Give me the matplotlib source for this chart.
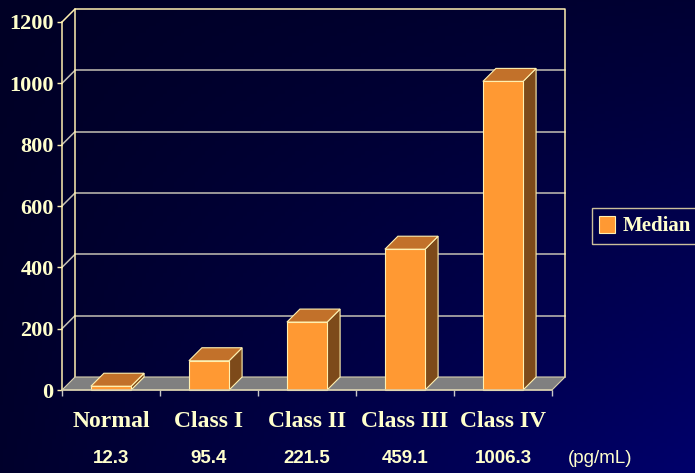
import numpy as np
import matplotlib
matplotlib.use("Agg")
import matplotlib.pyplot as plt
from matplotlib.patches import Polygon, Rectangle
from matplotlib.lines import Line2D
import matplotlib.transforms as mtransforms

# ---- data ----
categories = ["Normal", "Class I", "Class II", "Class III", "Class IV"]
medians = [12.3, 95.4, 221.5, 459.1, 1006.3]
value_labels = ["12.3", "95.4", "221.5", "459.1", "1006.3"]
unit_label = "(pg/mL)"
y_ticks = [0, 200, 400, 600, 800, 1000, 1200]
series_name = "Median"

# ---- style ----
W, H, DPI = 695, 473, 100
TXT = "#FFFFCC"
EDGE = "#FFF0B0"
GRID = "#C4C0B4"
FRONT = "#FF9933"
TOP = "#C2712A"
SIDE = "#7D4A1A"
FLOOR = "#808080"

fig = plt.figure(figsize=(W / DPI, H / DPI), dpi=DPI)

# background gradient
bg = fig.add_axes([0, 0, 1, 1], zorder=-10)
xx, yy = np.meshgrid(np.linspace(0, 1, 200), np.linspace(0, 1, 140))
t = 0.2 * xx + 0.1 * yy + 0.7 * xx * yy
img = np.zeros(xx.shape + (3,))
img[..., 2] = (37 + 70 * t) / 255
bg.imshow(img, aspect="auto", extent=[0, 1, 1, 0], origin="upper")
bg.set_axis_off()

# main axes: front plane
x0, x1 = 62, 552
y0, y1 = 390, 22
ax = fig.add_axes([x0 / W, (H - y0) / H, (x1 - x0) / W, (y0 - y1) / H])
ax.set_facecolor("none")
ax.set_xlim(-0.5, len(categories) - 0.5)
ax.set_ylim(0, 1200)

px_x = (len(categories)) / (x1 - x0)   # data per pixel x
px_y = 1200 / (y0 - y1)                 # data per pixel y
dx = 13 * px_x
dy = 13 * px_y
xl, xr = -0.5, len(categories) - 0.5
ymax = y_ticks[-1]

lw = 1.1
# back wall frame and gridlines
for v in y_ticks[1:-1]:
    ax.add_line(Line2D([xl + dx, xr + dx], [v + dy, v + dy], color=GRID, lw=lw, clip_on=False, zorder=1))
for v in y_ticks[1:]:
    ax.add_line(Line2D([xl, xl + dx], [v, v + dy], color=GRID if v != ymax else EDGE, lw=lw, clip_on=False, zorder=1))
ax.add_line(Line2D([xl + dx, xl + dx, xr + dx, xr + dx], [dy, ymax + dy, ymax + dy, dy],
                   color=EDGE, lw=lw, clip_on=False, zorder=1))

# floor
floor = Polygon([[xl, 0], [xr, 0], [xr + dx, dy], [xl + dx, dy]], closed=True,
                facecolor=FLOOR, edgecolor="#D8D0B0", lw=0.8, clip_on=False, zorder=2)
ax.add_patch(floor)

# bars
bw = 0.41
for i, v in enumerate(medians):
    l, r = i - bw / 2, i + bw / 2
    side = Polygon([[r, 0], [r + dx, dy], [r + dx, v + dy], [r, v]], closed=True,
                   facecolor=SIDE, edgecolor=EDGE, lw=0.8, clip_on=False, zorder=3)
    top = Polygon([[l, v], [r, v], [r + dx, v + dy], [l + dx, v + dy]], closed=True,
                  facecolor=TOP, edgecolor=EDGE, lw=0.8, clip_on=False, zorder=3)
    front = Rectangle((l, 0), bw, v, facecolor=FRONT, edgecolor=EDGE, lw=0.8,
                      clip_on=False, zorder=4)
    ax.add_patch(side)
    ax.add_patch(top)
    ax.add_patch(front)

# axes styling
for s in ["top", "right"]:
    ax.spines[s].set_visible(False)
ax.spines["left"].set_color(EDGE)
ax.spines["left"].set_linewidth(lw)
ax.spines["left"].set_zorder(5)
ax.spines["bottom"].set_color("#D8D0B0")
ax.spines["bottom"].set_linewidth(lw)
ax.spines["bottom"].set_zorder(5)

ax.set_yticks(y_ticks)
ax.set_yticklabels([str(v) for v in y_ticks])
ax.tick_params(axis="y", direction="out", length=3.5, width=1, color=EDGE, pad=2.5,
               labelcolor=TXT, labelsize=16)
for lab in ax.get_yticklabels():
    lab.set_fontfamily("Liberation Serif")
    lab.set_fontweight("bold")

ax.set_xticks(range(len(categories)))
ax.set_xticklabels(categories)
ax.set_xticks(np.arange(-0.5, len(categories)), minor=True)
ax.tick_params(axis="x", which="major", length=0, pad=15, labelcolor=TXT, labelsize=17)
ax.tick_params(axis="x", which="minor", direction="out", length=4, width=1, color="#C8C8C8")
for lab in ax.get_xticklabels():
    lab.set_fontfamily("Liberation Serif")
    lab.set_fontweight("bold")

# value labels under categories
trans = mtransforms.blended_transform_factory(ax.transData, fig.transFigure)
for i, s in enumerate(value_labels):
    ax.text(i, 1 - 458 / H, s, transform=trans, ha="center", va="center", color=TXT,
            fontsize=13.5, fontweight="bold", fontfamily="Liberation Sans")
fig.text(600 / W, 1 - 458 / H, unit_label, ha="center", va="center", color=TXT,
         fontsize=13.5, fontfamily="Liberation Sans")

# legend
handle = Rectangle((0, 0), 1, 1, facecolor=FRONT, edgecolor=EDGE, lw=0.8)
leg = fig.legend([handle], [series_name], loc="center left",
                 bbox_to_anchor=(592 / W, 1 - 226 / H), frameon=True,
                 handlelength=0.75, handleheight=0.9, handletextpad=0.35,
                 borderpad=0.35, borderaxespad=0, fancybox=False,
                 prop={"family": "Liberation Serif", "weight": "bold", "size": 15})
leg.get_frame().set_facecolor("none")
leg.get_frame().set_edgecolor(EDGE)
leg.get_frame().set_linewidth(1)
for tx in leg.get_texts():
    tx.set_color(TXT)

fig.savefig("out.png", dpi=DPI)
